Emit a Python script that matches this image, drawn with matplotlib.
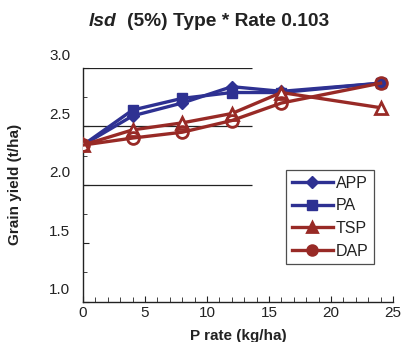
import matplotlib
matplotlib.use("Agg")
import matplotlib.pyplot as plt
from matplotlib.ticker import MultipleLocator
from matplotlib.transforms import ScaledTranslation

plt.rcParams['font.family'] = ['Liberation Sans', 'DejaVu Sans']

rates = [0, 4, 8, 12, 16, 24]
app = [2.34, 2.59, 2.70, 2.84, 2.80, 2.87]
pa = [2.34, 2.64, 2.74, 2.79, 2.79, 2.87]
tsp = [2.34, 2.47, 2.53, 2.61, 2.79, 2.66]
dap = [2.34, 2.40, 2.45, 2.55, 2.70, 2.87]
yticks = [1.0, 1.5, 2.0, 2.5, 3.0]
grid_levels = [2.0, 2.5, 3.0]

blue = '#2E3192'
red = '#982A26'

fig = plt.figure(figsize=(4.02, 3.42), dpi=100)
ax = fig.add_axes([83/402, 1-301.5/342, (393-83)/402, (301.5-68)/342])

ax.hlines(grid_levels, 0, 13.6, color='#222222', lw=0.9, zorder=1)

lw = 2.4
ax.plot(rates, app, color=blue, lw=lw, marker='D', ms=6.5, mfc=blue, mec=blue, label='APP', zorder=3)
ax.plot(rates, pa, color=blue, lw=lw, marker='s', ms=7, mfc=blue, mec=blue, label='PA', zorder=3)
ax.plot(rates, tsp, color=red, lw=lw, marker='^', ms=9, mfc='white', mec=red, mew=2, label='TSP', zorder=4)
ax.plot(rates, dap, color=red, lw=lw, marker='o', ms=8.5, mfc='none', mec=red, mew=2, label='DAP', zorder=4)

ax.set_xlim(0, 25)
ax.set_ylim(1.0, 3.0)
ax.xaxis.set_major_locator(MultipleLocator(5))
ax.xaxis.set_minor_locator(MultipleLocator(1))
ax.set_yticks(yticks)
ax.yaxis.set_minor_locator(MultipleLocator(0.25))
ax.set_yticklabels([f'{v:.1f}' for v in yticks])

for s in ['top', 'right']:
    ax.spines[s].set_visible(False)
for s in ['left', 'bottom']:
    ax.spines[s].set_color('#222222')
    ax.spines[s].set_linewidth(1.0)

ax.tick_params(axis='both', which='both', direction='in', color='#222222', labelsize=11, labelcolor='#222222')
ax.tick_params(axis='y', which='major', length=4, pad=9)
ax.tick_params(axis='y', which='minor', length=3)
ax.tick_params(axis='x', which='major', length=4, pad=3)
ax.tick_params(axis='x', which='minor', length=3.5)

offset = ScaledTranslation(0, 0.13, fig.dpi_scale_trans)
for lab in ax.get_yticklabels():
    lab.set_transform(lab.get_transform() + offset)

ax.set_xlabel('P rate (kg/ha)', fontsize=11, fontweight='bold', color='#222222', labelpad=7)
ax.set_ylabel('Grain yield (t/ha)', fontsize=11, fontweight='bold', color='#222222', labelpad=20)

leg = ax.legend(loc='upper left', bbox_to_anchor=((286-83)/310, (301.5-170)/233.5),
                frameon=True, fancybox=False, edgecolor='#222222', fontsize=11.5,
                handlelength=2.6, handletextpad=0.15, borderpad=0.35, labelspacing=0.48,
                borderaxespad=0)
leg.get_frame().set_linewidth(0.9)
for t in leg.get_texts():
    t.set_color('#222222')
for h, fc, ms in zip(leg.legend_handles, [blue, blue, red, red], [6, 7, 7, 7]):
    h.set_markerfacecolor(fc)
    h.set_markersize(ms)

fig.text(89/402, 1-22/342, 'lsd', fontsize=13.8, fontweight='bold', fontstyle='italic',
         ha='left', va='center', color='#222222')
fig.text(127/402, 1-22/342, '(5%) Type * Rate 0.103', fontsize=13.8, fontweight='bold',
         ha='left', va='center', color='#222222')

fig.savefig('out.png', dpi=100)
